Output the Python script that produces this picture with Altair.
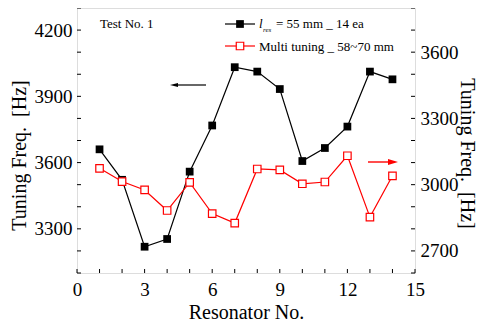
import altair as alt
import pandas as pd

# ---------------- data ----------------
res_no = list(range(1, 15))
f_single = [3660, 3522, 3219, 3254, 3559, 3768, 4032, 4012, 3933, 3607, 3666, 3763, 4012, 3977]
f_multi = [3074, 3014, 2976, 2883, 3010, 2869, 2826, 3071, 3067, 3004, 3012, 3131, 2853, 3040]

x_ticks = list(range(0, 16))
x_labels = [0, 3, 6, 9, 12, 15]
left_ticks = list(range(3100, 4301, 100))
left_labels = [3300, 3600, 3900, 4200]
right_ticks = list(range(2600, 3801, 100))
right_labels = [2700, 3000, 3300, 3600]

W, H = 338, 265
FONT = "Liberation Serif"
RED = "#ff0000"
TL = 4  # inward tick length
YTITLE = "Tuning Freq.\u00a0 [Hz]"

xscale = alt.Scale(domain=[0, 15], nice=False, zero=False)
lscale = alt.Scale(domain=[3100, 4300], nice=False, zero=False)
rscale = alt.Scale(domain=[2600, 3800], nice=False, zero=False)

common = dict(ticks=False, domain=False, grid=False, labelFont=FONT, titleFont=FONT,
              labelColor="black", titleColor="black", titleFontWeight="normal",
              labelFlush=False, labelOverlap=False, format="d")

xaxis = alt.Axis(values=x_labels, title="Resonator No.", labelFontSize=19, titleFontSize=20,
                 labelPadding=7, titlePadding=3, **common)
laxis = alt.Axis(values=left_labels, title=YTITLE, orient="left",
                 labelFontSize=19, titleFontSize=20, labelPadding=5,
                 titleAngle=270, titleAlign="center", titleBaseline="alphabetic",
                 titleX=-52, titleY=147, **common)
raxis = alt.Axis(values=right_labels, title=YTITLE, orient="right",
                 labelFontSize=19, titleFontSize=20, labelPadding=5,
                 titleAngle=90, titleAlign="center", titleBaseline="alphabetic",
                 titleX=45, titleY=145, **common)

df1 = pd.DataFrame({"x": res_no, "y": f_single})
df2 = pd.DataFrame({"x": res_no, "y": f_multi})

X = alt.X("x:Q", scale=xscale, axis=xaxis)

# ---------------- left (black) ----------------
b_line = alt.Chart(df1).mark_line(color="black", strokeWidth=1.2).encode(
    x=X, y=alt.Y("y:Q", scale=lscale, axis=laxis))
b_pts = alt.Chart(df1).mark_point(shape="square", filled=True, size=60, color="black", opacity=1).encode(
    x=X, y=alt.Y("y:Q", scale=lscale, axis=laxis))

xt = alt.Chart(pd.DataFrame({"x": x_ticks})).mark_rule(color="black", strokeWidth=1).encode(
    x=X, y=alt.value(H), y2=alt.value(H - TL))
lt = alt.Chart(pd.DataFrame({"y": left_ticks})).mark_rule(color="black", strokeWidth=1).encode(
    y=alt.Y("y:Q", scale=lscale, axis=laxis), x=alt.value(0), x2=alt.value(TL))

# annotations / legend
one = pd.DataFrame({"a": [0]})
def txt(s, x, y, size=13, style="normal", color="black"):
    return alt.Chart(one).mark_text(text=s, font=FONT, fontSize=size, fontStyle=style, color=color,
                                    align="left", baseline="middle").encode(x=alt.value(x), y=alt.value(y))

test_lbl = txt("Test No. 1", 23, 16)
leg1_line = alt.Chart(one).mark_rule(color="black", strokeWidth=1.2).encode(
    x=alt.value(148), x2=alt.value(178), y=alt.value(16))
leg1_pt = alt.Chart(one).mark_point(shape="square", filled=True, size=60, color="black", opacity=1).encode(
    x=alt.value(163), y=alt.value(16))
leg1_l = txt("l", 182, 16, style="italic")
leg1_sub = txt("res", 186, 22, size=7, style="italic")
leg1_rest = txt("= 55 mm _ 14 ea", 199, 16)

leg2_line = alt.Chart(one).mark_rule(color=RED, strokeWidth=1.2).encode(
    x=alt.value(148), x2=alt.value(178), y=alt.value(38))
leg2_pt = alt.Chart(one).mark_point(shape="square", filled=False, size=56, color=RED, strokeWidth=1.2,
                                    opacity=1, fill="white", fillOpacity=1).encode(
    x=alt.value(163), y=alt.value(38))
leg2_txt = txt("Multi tuning _ 58~70 mm", 182, 39)

# arrows
arr1_line = alt.Chart(one).mark_rule(color="black", strokeWidth=1.2).encode(
    x=alt.value(100), x2=alt.value(129), y=alt.value(77))
arr1_head = alt.Chart(one).mark_point(shape="M-1,0L1,-0.5L1,0.5Z", size=64, filled=True,
                                      color="black", opacity=1).encode(x=alt.value(97), y=alt.value(77))
arr2_line = alt.Chart(one).mark_rule(color=RED, strokeWidth=1.4).encode(
    x=alt.value(291), x2=alt.value(312), y=alt.value(154))
arr2_head = alt.Chart(one).mark_point(shape="M1,0L-1,-0.6L-1,0.6Z", size=100, filled=True,
                                      color=RED, opacity=1).encode(x=alt.value(316), y=alt.value(154))

left = alt.layer(b_line, lt, xt, b_pts, test_lbl, leg1_line, leg1_pt, leg1_l, leg1_sub, leg1_rest,
                 leg2_line, leg2_pt, leg2_txt, arr1_line, arr1_head, arr2_line, arr2_head)

# ---------------- right (red) ----------------
r_line = alt.Chart(df2).mark_line(color=RED, strokeWidth=1.2).encode(
    x=X, y=alt.Y("y:Q", scale=rscale, axis=raxis))
r_pts = alt.Chart(df2).mark_point(shape="square", filled=False, size=56, color=RED, strokeWidth=1.2,
                                  opacity=1, fill="white", fillOpacity=1).encode(
    x=X, y=alt.Y("y:Q", scale=rscale, axis=raxis))
rt = alt.Chart(pd.DataFrame({"y": right_ticks})).mark_rule(color="black", strokeWidth=1).encode(
    y=alt.Y("y:Q", scale=rscale, axis=raxis), x=alt.value(W), x2=alt.value(W - TL))

right = alt.layer(r_line, rt, r_pts)

chart = alt.layer(left, right).resolve_scale(y="independent").properties(
    width=W, height=H,
    padding={"left": 69, "top": 0, "right": 62, "bottom": 48},
    autosize=alt.AutoSizeParams(type="none"),
).configure_view(stroke="black", strokeWidth=1.2).configure(background="white")

chart.save("out.html", embed_options={"renderer": "svg", "actions": False})
